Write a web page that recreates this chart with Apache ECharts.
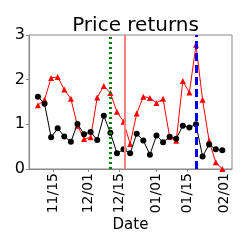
<!DOCTYPE html>
<html>
<head>
<meta charset="utf-8">
<script src="https://cdn.jsdelivr.net/npm/echarts@6/dist/echarts.min.js"></script>
<style>html,body{margin:0;padding:0;background:#fff;}#c{width:249px;height:249px;}</style>
</head>
<body>
<div id="c"></div>
<script>
const dates = ['2023-11-08','2023-11-11','2023-11-14','2023-11-17','2023-11-20','2023-11-23','2023-11-26','2023-11-29',
  '2023-12-02','2023-12-05','2023-12-08','2023-12-11','2023-12-14','2023-12-17','2023-12-20','2023-12-23','2023-12-26',
  '2023-12-29','2024-01-01','2024-01-04','2024-01-07','2024-01-10','2024-01-13','2024-01-16','2024-01-19','2024-01-22',
  '2024-01-25','2024-01-28','2024-01-31'];
const blackValues = [1.62,1.46,0.71,0.91,0.73,0.61,1.01,0.78,0.83,0.65,1.19,0.81,0.35,0.44,0.35,0.79,0.64,0.32,0.75,0.60,
  0.72,0.68,0.97,0.93,1.00,0.28,0.55,0.44,0.42];
const redValues = [1.43,1.55,2.04,2.06,1.78,1.57,0.97,0.67,0.71,1.60,1.86,1.70,1.28,1.06,0.56,1.24,1.62,1.59,1.48,1.57,
  0.72,0.63,1.97,1.71,2.78,1.55,0.63,0.15,0.0];
const tickDates = ['2023-11-15','2023-12-01','2023-12-15','2024-01-01','2024-01-15','2024-02-01'];
const tickLabels = ['11/15','12/01','12/15','01/01','01/15','02/01'];
const greenLineDate = '2023-12-11';
const redLineDate = '2023-12-17 12:00';
const blueLineDate = '2024-01-19';
const xRange = ['2023-11-03 22:00','2024-02-04 10:00'];

const REF = Date.UTC(2023,10,1);
function day(s){
  const [d,t] = s.split(' ');
  const [y,m,dd] = d.split('-').map(Number);
  let h = 0;
  if (t) h = Number(t.split(':')[0]);
  return (Date.UTC(y,m-1,dd,h) - REF)/86400000;
}
const xs = dates.map(day);
const tickX = tickDates.map(day);
const labelMap = {};
tickX.forEach((v,i)=>{labelMap[v]=tickLabels[i];});

const FONT = 'DejaVu Sans';
const chart = echarts.init(document.getElementById('c'), null, {renderer:'canvas'});
chart.setOption({
  animation:false,
  backgroundColor:'#fff',
  title:{text:'Price returns',left:130.5,textAlign:'center',top:11,
    textStyle:{fontFamily:FONT,fontSize:20,fontWeight:'normal',color:'#000'}},
  grid:{left:29,right:17,top:35,bottom:80,show:true,borderColor:'#888',borderWidth:1,containLabel:false},
  xAxis:{type:'value',min:day(xRange[0]),max:day(xRange[1]),
    name:'Date',nameLocation:'middle',nameGap:49,nameMoveOverlap:false,
    nameTextStyle:{fontFamily:FONT,fontSize:15,color:'#000'},
    axisLine:{show:true,lineStyle:{color:'#888'}},
    axisTick:{show:true,length:3,lineStyle:{color:'#888'},customValues:tickX},
    axisLabel:{rotate:90,margin:4,fontFamily:FONT,fontSize:14,color:'#000',customValues:tickX,
      formatter:(v)=>labelMap[v]||''},
    splitLine:{show:false}},
  yAxis:{type:'value',min:0,max:3,interval:1,
    axisLine:{show:true,lineStyle:{color:'#888'}},
    axisTick:{show:true,length:3,lineStyle:{color:'#888'}},
    axisLabel:{margin:4,fontFamily:FONT,fontSize:16,color:'#000'},
    splitLine:{show:false}},
  series:[
    {type:'line',data:xs.map((x,i)=>[x,redValues[i]]),symbol:'triangle',symbolSize:6,
      lineStyle:{color:'#ff0000',width:1},itemStyle:{color:'#ff0000'},z:3,
      markLine:{silent:true,symbol:'none',label:{show:false},
        data:[
          {xAxis:day(greenLineDate),lineStyle:{color:'#008000',width:3,type:[2,3]}},
          {xAxis:day(redLineDate),lineStyle:{color:'#ff8080',width:2,type:'solid'}},
          {xAxis:day(blueLineDate),lineStyle:{color:'#0000ff',width:3,type:[8,4]}}
        ]}},
    {type:'line',data:xs.map((x,i)=>[x,blackValues[i]]),symbol:'circle',symbolSize:6,
      lineStyle:{color:'#000',width:1},itemStyle:{color:'#000'},z:4}
  ]
});
</script>
</body>
</html>
